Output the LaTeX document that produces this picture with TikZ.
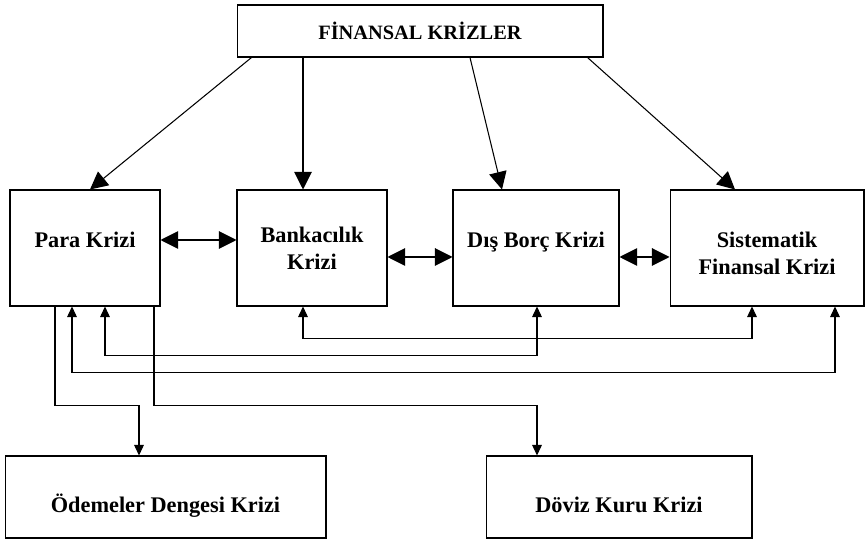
\documentclass[tikz,border=0pt]{standalone}
\usepackage{fontspec}
\setmainfont{Liberation Serif}
\usepackage{tikz}
\usetikzlibrary{shapes}
\usetikzlibrary{arrows.meta}
\usetikzlibrary{positioning}

\begin{document}
\begin{tikzpicture}[x=0.02cm,y=-0.02cm]
			\tikzset{box/.style = {shape=rectangle,draw,line width=0.6pt,
					minimum height=2.32cm, inner sep = 0pt, align=center,
					font=\bfseries\fontsize{12.7}{15.4}\selectfont}}
			\tikzset{edge/.style = {-{Triangle[length=10pt,width=10pt]}, line width=0.6pt}}
			\tikzset{edgebi/.style = {{Triangle[length=10pt,width=10pt]}-{Triangle[length=10pt,width=10pt]}, line width=0.6pt}}
			\tikzset{fb/.style = {-{Triangle[length=6pt,width=5.5pt]}, line width=0.6pt}}
			\tikzset{fbbi/.style = {{Triangle[length=6pt,width=5.5pt]}-{Triangle[length=6pt,width=5.5pt]}, line width=0.6pt}}
			\useasboundingbox (0,0) rectangle (865,540);
			
			% vertices
			\node[box, minimum width=7.32cm, minimum height=1.04cm,
				font=\bfseries\fontsize{11.6}{14}\selectfont] (fin) at (420,31) {FİNANSAL KRİZLER};
			\node[box, minimum width=3cm, text height=9pt, text depth=9pt] (para) at (85,248) {Para Krizi};
			\node[box, minimum width=3cm] (bank) at (312,248) {Bankacılık\\Krizi};
			\node[box, minimum width=3.32cm, text height=9pt, text depth=9pt] (dis) at (536,248) {Dış Borç Krizi};
			\node[box, minimum width=3.88cm] (sist) at (767,248) {\rule{0pt}{14.5pt}Sistematik\\Finansal Krizi};
			\node[box, minimum width=6.42cm, minimum height=1.64cm, text height=21.2pt, text depth=3pt] (odeme) at (165.5,497) {Ödemeler Dengesi\ Krizi};
			\node[box, minimum width=5.32cm, minimum height=1.64cm, text height=21.2pt, text depth=3pt] (doviz) at (619,497) {Döviz Kuru Krizi};
			
			%edges
			\draw[edge] ([xshift=0.3cm]fin.south west) -- ([xshift=0.1cm]para.north);
			\draw[edge] ([xshift=-0.18cm]bank.north |- fin.south) -- ([xshift=-0.18cm]bank.north);
			\draw[edge] ([xshift=1cm]fin.south) -- ([xshift=-0.68cm]dis.north);
			\draw[edge] ([xshift=-0.32cm]fin.south east) -- ([xshift=-0.64cm]sist.north);
			
			\draw[edgebi] ([yshift=0.16cm]para.east) -- ([yshift=0.16cm]bank.west);
			\draw[edgebi] ([yshift=-0.18cm]bank.east) -- ([yshift=-0.18cm]dis.west);
			\draw[edgebi] ([yshift=-0.18cm]dis.east) -- ([yshift=-0.18cm]sist.west);
			
			\draw[fbbi] ([xshift=-0.18cm]bank.south) -- ++(0,32) -| ([xshift=-0.3cm]sist.south);
			\draw[fbbi] ([xshift=0.4cm]para.south) -- ++(0,49) -| ([xshift=0.02cm]dis.south);
			\draw[fbbi] ([xshift=-0.26cm]para.south) -- ++(0,66) -| ([xshift=1.36cm]sist.south);
			
			\draw[fb] ([xshift=-0.6cm]para.south) -- ++(0,99) -| ([xshift=-0.53cm]odeme.north);
			\draw[fb] ([xshift=1.38cm]para.south) -- ++(0,99) -| ([xshift=-1.64cm]doviz.north);
			
\end{tikzpicture}
\end{document}
